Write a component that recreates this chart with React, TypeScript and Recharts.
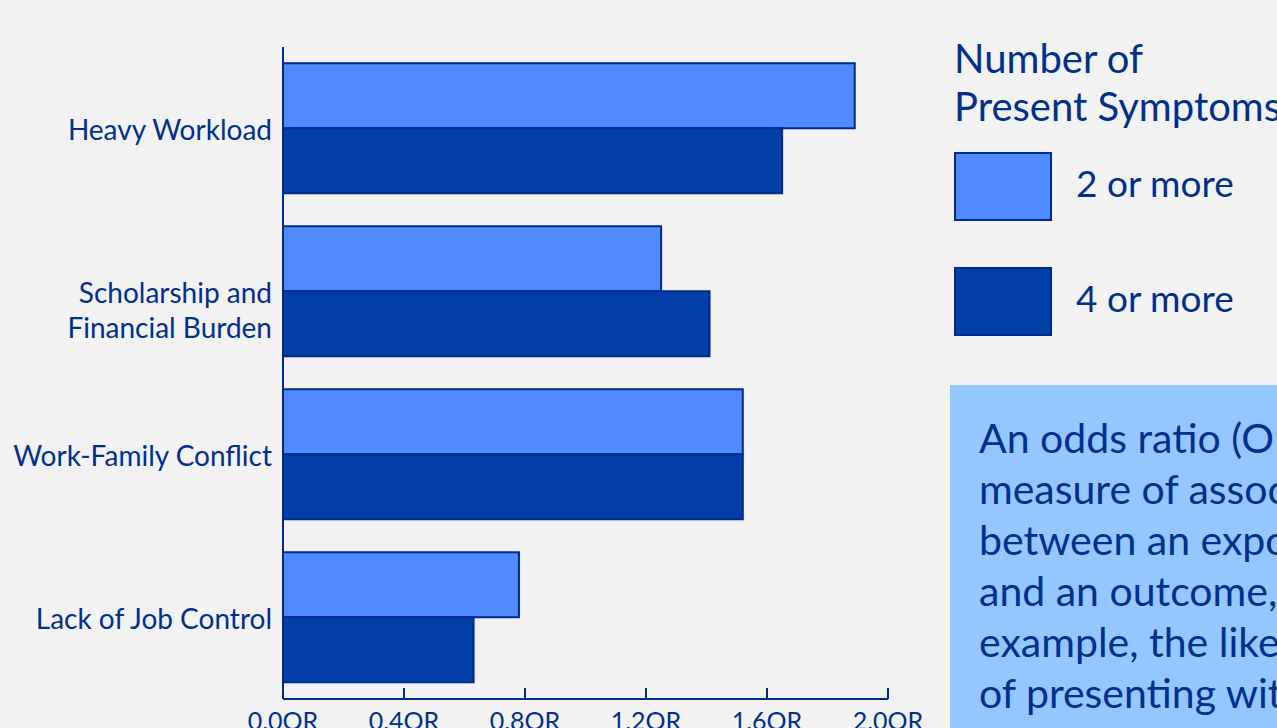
import React from "react";
import { BarChart, Bar, XAxis, YAxis, Legend } from "recharts";

const categories = [
  "Heavy Workload",
  "Scholarship and\nFinancial Burden",
  "Work-Family Conflict",
  "Lack of Job Control",
];
const twoOrMore = [1.89, 1.25, 1.52, 0.78];
const fourOrMore = [1.65, 1.41, 1.52, 0.63];
const xTicks = [0, 0.4, 0.8, 1.2, 1.6, 2.0];
const seriesNames = ["2 or more", "4 or more"];
const legendTitle = ["Number of", "Present Symptoms"];
const noteLines = [
  "An odds ratio (OR) is a",
  "measure of association",
  "between an exposure",
  "and an outcome, for",
  "example, the likelihood",
  "of presenting with",
  "burnout symptoms.",
];

const data = categories.map((c, i) => ({
  name: c,
  two: twoOrMore[i],
  four: fourOrMore[i],
}));

const FONT = "Lato, 'Open Sans', sans-serif";
const TEXT = "#00308c";
const NAVY = "#002a8c";
const LIGHT = "#508aff";
const DARK = "#003ea8";
const BG = "#f2f2f2";

const YTick = (props: any) => {
  const { x, y, payload } = props;
  const lines = String(payload.value).split("\n");
  return (
    <text x={x} y={y} textAnchor="end" fill={TEXT} fontFamily={FONT} fontSize={28}>
      {lines.map((l, i) => (
        <tspan key={i} x={x} dy={i === 0 ? 11 : 35}>
          {l}
        </tspan>
      ))}
    </text>
  );
};

const XTick = (props: any) => {
  const { x, y, payload } = props;
  return (
    <g>
      <line x1={x} x2={x} y1={y - 11} y2={y} stroke={NAVY} strokeWidth={2} />
      <text x={x} y={y + 31} textAnchor="middle" fill={TEXT} fontFamily={FONT} fontSize={25}>
        {Number(payload.value).toFixed(1) + "OR"}
      </text>
    </g>
  );
};

const LegendContent = (props: any) => {
  const { payload } = props;
  return (
    <div style={{ fontFamily: FONT, color: TEXT }}>
      <div style={{ fontSize: 40, lineHeight: "48px", whiteSpace: "nowrap" }}>
        {legendTitle.map((t) => (
          <div key={t}>{t}</div>
        ))}
      </div>
      <div style={{ marginTop: 22 }}>
        {(payload || []).map((p: any, i: number) => (
          <div key={i} style={{ display: "flex", alignItems: "center", height: 69, marginBottom: i === 0 ? 46 : 0 }}>
            <div
              style={{
                width: 94,
                height: 65,
                background: p.color,
                border: `2px solid ${NAVY}`,
                flexShrink: 0,
              }}
            />
            <span style={{ fontSize: 37, marginLeft: 24, whiteSpace: "nowrap", position: "relative", top: -4 }}>{p.value}</span>
          </div>
        ))}
      </div>
    </div>
  );
};

export default function App() {
  return (
    <div
      style={{
        position: "fixed",
        left: 0,
        top: 0,
        width: 1277,
        height: 728,
        overflow: "hidden",
        background: BG,
      }}
    >
      <div style={{ position: "absolute", left: 0, top: 0 }}>
        <BarChart
          width={1277}
          height={728}
          data={data}
          layout="vertical"
          margin={{ top: 47, right: 389, bottom: 0, left: 0 }}
          barCategoryGap="10%"
          barGap={0}
        >
          <XAxis
            type="number"
            domain={[0, 2]}
            ticks={xTicks}
            height={29}
            tickSize={0}
            tickMargin={0}
            tickLine={false}
            axisLine={{ stroke: NAVY, strokeWidth: 2 }}
            tick={<XTick />}
            interval={0}
            allowDataOverflow
          />
          <YAxis
            type="category"
            dataKey="name"
            width={283}
            tickLine={false}
            tickSize={0}
            tickMargin={11}
            axisLine={{ stroke: NAVY, strokeWidth: 2 }}
            tick={<YTick />}
            interval={0}
          />
          <Legend
            layout="vertical"
            align="center"
            verticalAlign="middle"
            content={<LegendContent />}
            wrapperStyle={{ left: 954, top: 34, width: 340 }}
          />
          <Bar dataKey="two" name={seriesNames[0]} fill={LIGHT} stroke={NAVY} strokeWidth={2} isAnimationActive={false} />
          <Bar dataKey="four" name={seriesNames[1]} fill={DARK} stroke={NAVY} strokeWidth={2} isAnimationActive={false} />
        </BarChart>
      </div>
      <div
        style={{
          position: "absolute",
          left: 950,
          top: 385,
          width: 420,
          height: 420,
          background: "#94c6ff",
          fontFamily: FONT,
          color: TEXT,
          fontSize: 41,
          lineHeight: "51px",
          paddingLeft: 29,
          paddingTop: 27,
          boxSizing: "border-box",
          whiteSpace: "nowrap",
        }}
      >
        {noteLines.map((l) => (
          <div key={l}>{l}</div>
        ))}
      </div>
    </div>
  );
}
